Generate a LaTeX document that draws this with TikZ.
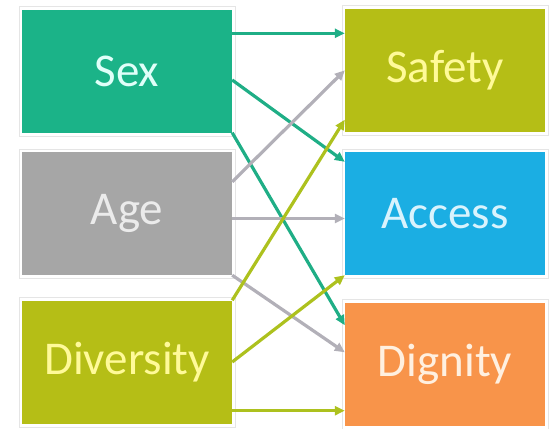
\documentclass[tikz,border=0pt]{standalone}
\usepackage{fontspec}
\setmainfont{Carlito}
\usetikzlibrary{arrows.meta,calc}

\definecolor{sexgreen}{HTML}{1BB388}
\definecolor{agegray}{HTML}{A6A6A6}
\definecolor{olive}{HTML}{B5BE16}
\definecolor{accessblue}{HTML}{1BAEE3}
\definecolor{dignityorange}{HTML}{F8944A}
\definecolor{linkgreen}{HTML}{1FAE86}
\definecolor{linkgray}{HTML}{B2B0B8}
\definecolor{linkolive}{HTML}{ADC11E}

\begin{document}
\begin{tikzpicture}[x=1pt, y=-1pt,
	box/.style={minimum height=123pt, inner sep=0pt,
		font=\fontsize{47}{50}\selectfont},
	leftbox/.style={box, minimum width=210pt},
	rightbox/.style={box, minimum width=200pt},
	link/.style={line width=3.2pt, -{Triangle[length=10pt,width=9pt]}}]

				\useasboundingbox (0,0) rectangle (550,429);

				% Left column
				\node[leftbox, fill=sexgreen, text=green!20!cyan!12!white] (sex) at (127,71) {Sex};
				\node[leftbox, fill=agegray, text=white!92!black] (age) at (127,213.5) {Age};
				\node[leftbox, fill=olive, text=yellow!40!white] (div) at (127,362) {Diversity};

				% Right column
				\node[rightbox, fill=olive, text=yellow!40!white] (safety) at (445,70) {Safety};
				\node[rightbox, fill=accessblue, text=cyan!15!white] (access) at (445,213.5) {Access};
				\node[rightbox, fill=dignityorange, text=orange!12!white] (dignity) at (445,364) {Dignity};

				% Faint frames
				\foreach \n in {sex,age,div,safety,access,dignity}
					\draw[black!10] ($(\n.north west)+(-3,-3)$) rectangle ($(\n.south east)+(3,3)$);

				% Links from Sex
				\draw[link, linkgreen] ($(sex.north east)+(0,24)$) coordinate (s) -- (s -| safety.west);
				\draw[link, linkgreen] ($(sex.east)+(0,9)$) -- ($(access.north west)+(0,10)$);
				\draw[link, linkgreen] (sex.south east) -- ($(dignity.north west)+(0,23)$);

				% Links from Age
				\draw[link, linkgray] ($(age.north east)+(0,30)$) -- ($(safety.north west)+(0,62)$);
				\draw[link, linkgray] ($(age.east)+(0,5)$) coordinate (p) -- (p -| access.west);
				\draw[link, linkgray] (age.south east) -- ($(dignity.north west)+(0,50)$);

				% Links from Diversity
				\draw[link, linkolive] (div.north east) -- ($(safety.south west)+(0,-12)$);
				\draw[link, linkolive] (div.east) -- (access.south west);
				\draw[link, linkolive] ($(div.south east)+(0,-13)$) coordinate (q) -- (q -| dignity.west);

			\end{tikzpicture}
\end{document}
